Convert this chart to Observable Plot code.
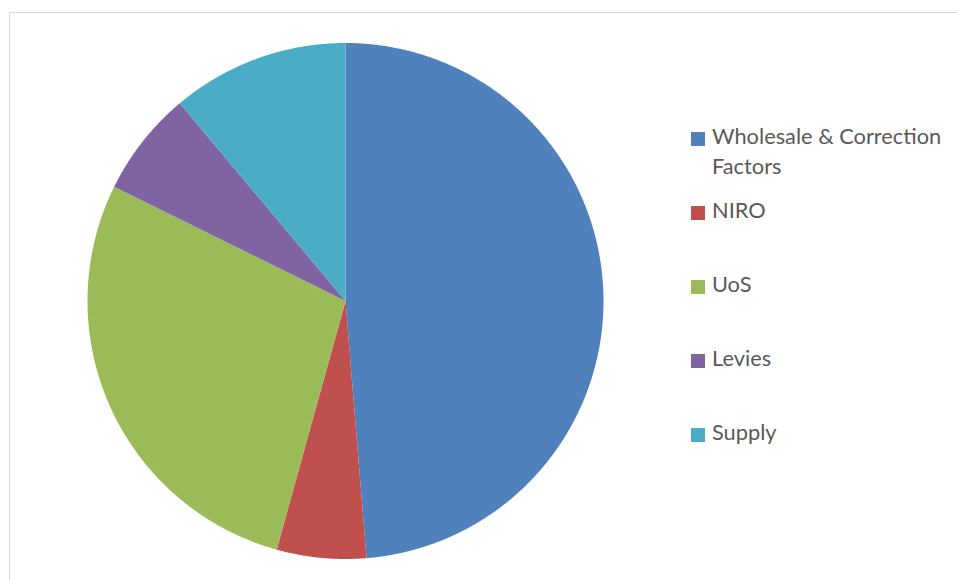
<!DOCTYPE html>
<html>
<head>
<meta charset="utf-8">
<script src="https://cdn.jsdelivr.net/npm/d3@7"></script>
<script src="https://cdn.jsdelivr.net/npm/@observablehq/plot@0.6"></script>
<style>
  html, body { margin: 0; padding: 0; background: #fff; }
  #wrap { position: relative; width: 957px; height: 580px; overflow: hidden; }
  #frame { position: absolute; left: 9px; top: 12px; width: 960px; height: 600px; border: 1.7px solid #d9d9d9; box-sizing: border-box; }
  #chart { position: absolute; left: 0; top: 0; }
  #legend { position: absolute; left: 691px; top: 0; font-family: Lato, "Open Sans", sans-serif; font-size: 21.8px; color: #595959; }
  .item { position: absolute; left: 0; white-space: nowrap; }
  .sw { position: absolute; left: 0; width: 14px; height: 14px; }
  .lbl { position: absolute; left: 21px; line-height: 30px; }
</style>
</head>
<body>
<div id="wrap">
  <div id="frame"></div>
  <div id="chart"></div>
  <div id="legend"></div>
</div>
<script>
const categories = ["Wholesale & Correction Factors", "NIRO", "UoS", "Levies", "Supply"];
const legendLines = [["Wholesale & Correction", "Factors"], ["NIRO"], ["UoS"], ["Levies"], ["Supply"]];
const shares = [48.7, 5.6, 28.0, 6.6, 11.1];
const colors = ["#4F81BD", "#C0504D", "#9BBB59", "#8064A2", "#4BACC6"];

const arcs = d3.pie().sort(null).value(d => d.v).startAngle(0).endAngle(2 * Math.PI)(
  categories.map((c, i) => ({c, v: shares[i]}))
);
// tessellate each slice outline (geometry only)
const pts = [];
for (const a of arcs) {
  const n = Math.max(4, Math.ceil((a.endAngle - a.startAngle) / 0.005));
  pts.push({name: a.data.c, x: 0, y: 0});
  for (let k = 0; k <= n; k++) {
    const t = a.startAngle + (a.endAngle - a.startAngle) * k / n;
    pts.push({name: a.data.c, x: Math.sin(t), y: Math.cos(t)});
  }
}

const cx = 345, cy = 300.5, r = 258;
const W = 957, H = 580;
const plot = Plot.plot({
  width: W,
  height: H,
  marginLeft: cx - r,
  marginRight: W - (cx + r),
  marginTop: cy - r,
  marginBottom: H - (cy + r),
  x: {domain: [-1, 1], axis: null},
  y: {domain: [-1, 1], axis: null},
  color: {domain: categories, range: colors},
  marks: [
    Plot.line(pts, {x: "x", y: "y", z: "name", fill: "name", stroke: "none", curve: "linear-closed"})
  ]
});
plot.style.background = "transparent";
document.getElementById("chart").appendChild(plot);

const legend = document.getElementById("legend");
const firstBaseline = 145, step = 74;
categories.forEach((c, i) => {
  const item = document.createElement("div");
  item.className = "item";
  const base = firstBaseline + i * step;
  item.style.top = (base - 13.3) + "px";
  const sw = document.createElement("div");
  sw.className = "sw";
  sw.style.background = colors[i];
  sw.style.top = "0px";
  item.appendChild(sw);
  const lbl = document.createElement("div");
  lbl.className = "lbl";
  lbl.style.top = "-10.3px";
  lbl.innerHTML = legendLines[i].join("<br>");
  item.appendChild(lbl);
  legend.appendChild(item);
});
</script>
</body>
</html>
